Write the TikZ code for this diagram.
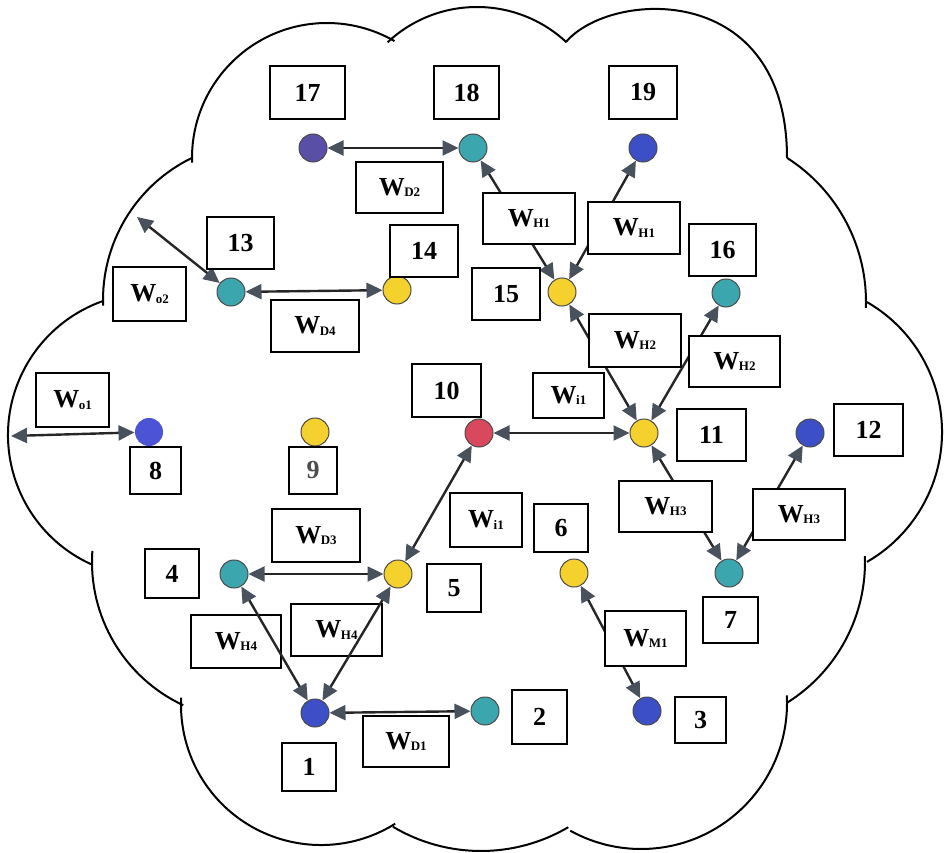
\documentclass[tikz,border=0pt]{standalone}
\usepackage{fontspec}
\setmainfont{Liberation Serif}
\usetikzlibrary{arrows.meta}
\definecolor{cteal}{HTML}{3BA6AE}
\definecolor{cblue}{HTML}{3D4FC6}
\definecolor{cblueb}{HTML}{4C53D4}
\definecolor{cpurple}{HTML}{5A4FA6}
\definecolor{cyellow}{HTML}{F4D12C}
\definecolor{cred}{HTML}{D9485C}
\definecolor{dotline}{HTML}{4A4A4A}
\definecolor{linec}{HTML}{262626}
\definecolor{tipc}{HTML}{48515C}
\newcommand\Wsub[1]{W\kern-0.5pt{\fontsize{13}{13}\selectfont\raisebox{-1.5pt}{#1}}}
\begin{document}
\begin{tikzpicture}[x=1pt,y=-1pt,
  cloudline/.style={draw=black,line width=2pt},
  dot/.style={circle,draw=dotline,line width=1pt,minimum size=28pt,inner sep=0pt},
  box/.style={rectangle,draw=black,fill=white,line width=1.8pt,inner sep=0pt,
     font=\fontsize{26}{30}\selectfont\bfseries},
  conn/.style={draw=linec,line width=2.4pt,
     arrows={Triangle[length=16pt,width=15pt,color=tipc]-Triangle[length=16pt,width=15pt,color=tipc]}}]
\useasboundingbox (0,0) rectangle (945,853);

% cloud outline
\draw[cloudline] (327,158) ++(178:135) arc[start angle=178,end angle=300,radius=135];
\draw[cloudline] (477,138) ++(227:131) arc[start angle=227,end angle=313,radius=131];
\draw[cloudline] (566,42) .. controls (610,-10) and (787,-20) .. (787,158);
\draw[cloudline] (695,302) ++(-57.4:171) arc[start angle=-57.4,end angle=2,radius=171];
\draw[cloudline] (792,432) ++(-60:150) arc[start angle=-60,end angle=60,radius=150];
\draw[cloudline] (699,562) ++(-2:166) arc[start angle=-2,end angle=58,radius=166];
\draw[cloudline] (641,703) ++(-3:146) arc[start angle=-3,end angle=119,radius=146];
\draw[cloudline] (481,679) ++(59.5:172) arc[start angle=59.5,end angle=120.8,radius=172];
\draw[cloudline] (321,705) ++(58:140) arc[start angle=58,end angle=183,radius=140];
\draw[cloudline] (250,562) ++(115:158) arc[start angle=115,end angle=184,radius=158];
\draw[cloudline] (150,435) ++(114.5:142) arc[start angle=114.5,end angle=251,radius=142];
\draw[cloudline] (261,300) ++(178:158) arc[start angle=178,end angle=244,radius=158];

% boxes crossed by their connectors
\node[box,minimum width=90pt,minimum height=53pt] (wH4a) at (236,641.5) {\Wsub{H4}};
\node[box,minimum width=91pt,minimum height=52pt] (wH4b) at (336.5,630) {\Wsub{H4}};

% dots
\node[dot,fill=cpurple] (c17) at (313,148) {};
\node[dot,fill=cteal] (c18) at (473,148) {};
\node[dot,fill=cblue] (c19) at (643,148) {};
\node[dot,fill=cteal] (c13) at (231,292) {};
\node[dot,fill=cyellow] (c14) at (397,290) {};
\node[dot,fill=cyellow] (c15) at (562,292) {};
\node[dot,fill=cteal] (c16) at (726,293) {};
\node[dot,fill=cred] (c10) at (479,433) {};
\node[dot,fill=cyellow] (c11) at (644,433) {};
\node[dot,fill=cblue] (c12) at (810,433) {};
\node[dot,fill=cblueb,draw=none] (c8) at (149,432) {};
\node[dot,fill=cyellow] (c9) at (315,432) {};
\node[dot,fill=cteal] (c4) at (234,574) {};
\node[dot,fill=cyellow] (c5) at (398,574) {};
\node[dot,fill=cyellow] (c6) at (574,573) {};
\node[dot,fill=cteal] (c7) at (729,573) {};
\node[dot,fill=cblue] (c1) at (315,713) {};
\node[dot,fill=cteal] (c2) at (485,711) {};
\node[dot,fill=cblue] (c3) at (647,711) {};
\coordinate (o2) at (137,217);
\coordinate (o1) at (11,436);

% connectors
\draw[conn] (c17) -- (c18);
\draw[conn] (c13) -- (c14);
\draw[conn] (o2) -- (c13);
\draw[conn] (o1) -- (c8);
\draw[conn] (c10) -- (c11);
\draw[conn] (c10) -- (c5);
\draw[conn] (c4) -- (c5);
\draw[conn] (c1) -- (c4);
\draw[conn] (c1) -- (c5);
\draw[conn] (c1) -- (c2);
\draw[conn] (c6) -- (c3);
\draw[conn] (c11) -- (c7);
\draw[conn] (c12) -- (c7);
\draw[conn] (c15) -- (c11);
\draw[conn] (c16) -- (c11);
\draw[conn] (c15) -- (c18);
\draw[conn] (c15) -- (c19);

% label boxes
\node[box,minimum width=75pt,minimum height=53pt] (b17) at (307.5,92.5) {17};
\node[box,minimum width=65pt,minimum height=53pt] (b18) at (466.5,92.5) {18};
\node[box,minimum width=68pt,minimum height=53pt] (b19) at (643,92.5) {19};
\node[box,minimum width=87pt,minimum height=51pt] (wD2) at (399.5,187.5) {\Wsub{D2}};
\node[box,minimum width=92pt,minimum height=51pt] (wH1a) at (529,218.5) {\Wsub{H1}};
\node[box,minimum width=92pt,minimum height=52pt] (wH1b) at (634,228) {\Wsub{H1}};
\node[box,minimum width=67pt,minimum height=52pt] (b13) at (240.5,243) {13};
\node[box,minimum width=68pt,minimum height=52pt] (b14) at (424,251) {14};
\node[box,minimum width=68pt,minimum height=52pt] (b15) at (506,294) {15};
\node[box,minimum width=67pt,minimum height=52pt] (b16) at (722.5,250) {16};
\node[box,minimum width=73pt,minimum height=54pt] (wo2) at (149.5,294) {\Wsub{o2}};
\node[box,minimum width=88pt,minimum height=52pt] (wD4) at (315,326) {\Wsub{D4}};
\node[box,minimum width=92pt,minimum height=53pt] (wH2a) at (635,340.5) {\Wsub{H2}};
\node[box,minimum width=91pt,minimum height=51pt] (wH2b) at (734.5,361.5) {\Wsub{H2}};
\node[box,minimum width=73pt,minimum height=54pt] (wo1) at (72.5,400) {\Wsub{o1}};
\node[box,minimum width=69pt,minimum height=53pt] (b10) at (446.5,390.5) {10};
\node[box,minimum width=71pt,minimum height=45pt] (wi1a) at (568.5,395.5) {\Wsub{i1}};
\node[box,minimum width=69pt,minimum height=52pt] (b11) at (711.5,435) {11};
\node[box,minimum width=69pt,minimum height=52pt] (b12) at (868.5,430) {12};
\node[box,minimum width=51pt,minimum height=47pt] (b8) at (155.5,470.5) {8};
\node[box,minimum width=48pt,minimum height=47pt,text=black!70] (b9) at (313,470.5) {9};
\node[box,minimum width=72pt,minimum height=54pt] (wi1b) at (486,520) {\Wsub{i1}};
\node[box,minimum width=54pt,minimum height=48pt] (b6) at (561,528) {6};
\node[box,minimum width=93pt,minimum height=51pt] (wH3a) at (665.5,506.5) {\Wsub{H3}};
\node[box,minimum width=92pt,minimum height=51pt] (wH3b) at (799,514.5) {\Wsub{H3}};
\node[box,minimum width=88pt,minimum height=53pt] (wD3) at (316,535.5) {\Wsub{D3}};
\node[box,minimum width=54pt,minimum height=49pt] (b4) at (172,573.5) {4};
\node[box,minimum width=54pt,minimum height=48pt] (b5) at (454,588) {5};
\node[box,minimum width=55pt,minimum height=46pt] (b7) at (730.5,620) {7};
\node[box,minimum width=81pt,minimum height=55pt] (wM1) at (645.5,638.5) {\Wsub{M1}};
\node[box,minimum width=55pt,minimum height=54pt] (b2) at (539.5,717) {2};
\node[box,minimum width=51pt,minimum height=46pt] (b3) at (700.5,720) {3};
\node[box,minimum width=86pt,minimum height=51pt] (wD1) at (406,741.5) {\Wsub{D1}};
\node[box,minimum width=54pt,minimum height=48pt] (b1) at (309,767) {1};
\end{tikzpicture}
\end{document}
